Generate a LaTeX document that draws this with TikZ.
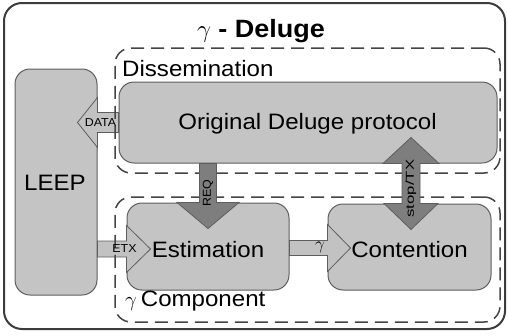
\documentclass[tikz,border=0pt]{standalone}
\usepackage{fontspec}
\setmainfont[FakeStretch=1.08]{Liberation Sans}
\usetikzlibrary{calc}
\definecolor{boxfill}{HTML}{C4C4C4}
\definecolor{boxline}{HTML}{5E5E5E}
\definecolor{arrfill}{HTML}{C2C2C2}
\definecolor{varfill}{HTML}{7E7E7E}
\definecolor{dashcol}{HTML}{454545}
\definecolor{outcol}{HTML}{3C3C3C}
\begin{document}
\begin{tikzpicture}[x=1pt,y=-1pt,
  box/.style={draw=boxline, fill=boxfill, rounded corners=15pt, line width=1pt, inner sep=0pt},
  group/.style={draw=dashcol, dash pattern=on 13pt off 7pt, line width=1.5pt, rounded corners=16pt, inner sep=0pt},
  outer/.style={draw=outcol, line width=2pt, rounded corners=18pt, inner sep=0pt},
  harrow/.style={draw=boxline, fill=arrfill, line width=0.8pt},
  varrow/.style={draw=boxline, fill=varfill, line width=0.8pt},
  lbl/.style={inner sep=0pt, font=\fontsize{22.3}{26}\selectfont},
  small/.style={inner sep=0pt, font=\fontsize{11.5}{13}\selectfont}]
\useasboundingbox (0,0) rectangle (508,335);
\node[outer, minimum width=501pt, minimum height=326pt] (outerbox) at (254.5,166) {};
% boxes
\node[box, minimum width=82pt, minimum height=226pt] (leep) at (56,182) {};
\node[box, minimum width=378pt, minimum height=81pt] (deluge) at (308,122.5) {};
\node[box, minimum width=162pt, minimum height=87pt] (est) at (208,246.5) {};
\node[box, minimum width=163pt, minimum height=86pt] (cont) at (409.5,247) {};
% horizontal block arrows
\coordinate (dB) at (deluge.west -| leep.east);
\draw[harrow] ($(deluge.west)+(0,-10)$) -- ($(dB)+(0,-10)$) -- ($(dB)+(0,-25)$)
  -- ($(dB)+(-20,0)$) -- ($(dB)+(0,25)$) -- ($(dB)+(0,10)$) -- ($(deluge.west)+(0,10)$) -- cycle;
\coordinate (eA) at ($(est.west)+(0,2.5)$);
\coordinate (eL) at (eA -| leep.east);
\draw[harrow] ($(eL)+(0,-8)$) -- ($(eA)+(0,-8)$) -- ($(eA)+(0,-23.5)$) -- ($(eA)+(24,0)$)
  -- ($(eA)+(0,23.5)$) -- ($(eA)+(0,8)$) -- ($(eL)+(0,8)$) -- cycle;
\coordinate (gA) at ($(cont.west)+(0,1)$);
\coordinate (gL) at (gA -| est.east);
\draw[harrow] ($(gL)+(0,-7.5)$) -- ($(gA)+(0,-7.5)$) -- ($(gA)+(0,-23.5)$) -- ($(gA)+(23,0)$)
  -- ($(gA)+(0,23.5)$) -- ($(gA)+(0,7.5)$) -- ($(gL)+(0,7.5)$) -- cycle;
% dashed groups
\node[group, minimum width=385pt, minimum height=125pt] (diss) at (307.5,110.5) {};
\node[group, minimum width=385pt, minimum height=125pt] (comp) at (307.5,259.5) {};
% vertical block arrows
\coordinate (rB) at (est.north);
\coordinate (rT) at (est.north |- deluge.south);
\draw[varrow] ($(rT)+(-8.5,0)$) -- ($(rB)+(-8.5,0)$) -- ($(rB)+(-31,0)$) -- ($(rB)+(0,26)$)
  -- ($(rB)+(31,0)$) -- ($(rB)+(8.5,0)$) -- ($(rT)+(8.5,0)$) -- cycle;
\coordinate (sB) at ($(cont.north)+(1.5,0)$);
\coordinate (sT) at (sB |- deluge.south);
\draw[varrow] ($(sT)+(-9,0)$) -- ($(sT)+(-28,0)$) -- ($(sT)+(0,-26)$) -- ($(sT)+(28,0)$)
  -- ($(sT)+(9,0)$) -- ($(sB)+(9,0)$) -- ($(sB)+(27,0)$) -- ($(sB)+(0,26)$)
  -- ($(sB)+(-27,0)$) -- ($(sB)+(-9,0)$) -- cycle;
% labels
\node[anchor=base, inner sep=0pt, font=\fontsize{25}{30}\selectfont\bfseries] (title) at (261,37.5) {$\gamma$ - Deluge};
\node[lbl, anchor=base west] (dissl) at (122,76) {Dissemination};
\node[lbl, anchor=base] (origl) at (307.5,129) {Original Deluge protocol};
\node[lbl, anchor=base] (leepl) at (55,190) {LEEP};
\node[lbl, anchor=base] (estl) at (208,257) {Estimation};
\node[lbl, anchor=base] (contl) at (409.5,257) {Contention};
\node[lbl, anchor=base west] (compl) at (125,306) {$\gamma$\hspace{4pt}Component};
\node[small] (datal) at (100.5,122.5) {DATA};
\node[small] (etxl) at (124.5,248.5) {ETX};
\node[inner sep=0pt, font=\fontsize{17}{19}\selectfont] (gl) at (320,247) {$\gamma$};
\node[small, rotate=90] (reql) at (208,193) {REQ};
\node[small, rotate=90] (stopl) at (411,188.5) {\scalebox{1.35}[1]{stop/TX}};
\end{tikzpicture}
\end{document}
